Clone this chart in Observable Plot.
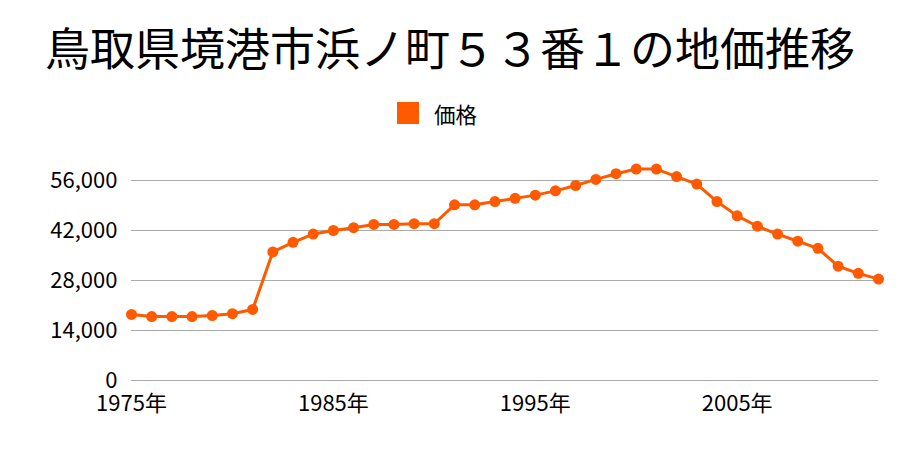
<!DOCTYPE html>
<html>
<head>
<meta charset="utf-8">
<script src="https://cdn.jsdelivr.net/npm/d3@7"></script>
<script src="https://cdn.jsdelivr.net/npm/@observablehq/plot@0.6"></script>
<style>
  body { margin: 0; background: #fff; }
  #wrap { position: relative; width: 900px; height: 450px; font-family: "Noto Sans CJK JP", sans-serif; }
  #title { position: absolute; left: 0; top: 24px; width: 900px; text-align: center; font-size: 45px; line-height: 45px; color: #000; white-space: nowrap; }
  #legend { position: absolute; left: 397px; top: 102px; height: 22px; display: flex; align-items: center; font-size: 21.5px; color: #000; }
  #legend .sw { width: 22px; height: 22px; background: #ff5a00; margin-right: 15px; }
  #chart { position: absolute; left: 0; top: 0; }
</style>
</head>
<body>
<div id="wrap">
  <div id="chart"></div>
  <div id="title">鳥取県境港市浜ノ町５３番１の地価推移</div>
  <div id="legend"><span class="sw"></span><span>価格</span></div>
</div>
<script>
const years = [1975,1976,1977,1978,1979,1980,1981,1982,1983,1984,1985,1986,1987,1988,1989,1990,1991,1992,1993,1994,1995,1996,1997,1998,1999,2000,2001,2002,2003,2004,2005,2006,2007,2008,2009,2010,2011,2012];
const prices = [18500,17900,17900,17900,18200,18700,19900,36000,38700,41000,42000,42800,43700,43700,43900,43900,49200,49200,50100,51000,51900,53100,54600,56300,57900,59200,59200,57100,55000,50100,46100,43200,41000,39000,37000,32000,30000,28400];
const yTicks = [0,14000,28000,42000,56000];
const xTicks = [1975,1985,1995,2005];
const seriesName = "価格";
const color = "#ff5a00";

const data = years.map((y, i) => ({year: y, price: prices[i], series: seriesName}));

const chart = Plot.plot({
  width: 900,
  height: 450,
  marginLeft: 131,
  marginRight: 22,
  marginTop: 130,
  marginBottom: 70,
  style: { fontFamily: "'Noto Sans CJK JP', sans-serif", fontSize: "22px", color: "#000", background: "transparent" },
  x: { domain: [1975, 2012], ticks: xTicks, tickFormat: d => d + "年", tickSize: 0, tickPadding: 15, label: null },
  y: { domain: [0, 70000], ticks: yTicks, tickFormat: d3.format(","), tickSize: 0, tickPadding: 14, label: null },
  marks: [
    Plot.gridY(yTicks, { stroke: "#aaaaaa", strokeOpacity: 1, strokeWidth: 1 }),
    Plot.axisY({ ticks: yTicks, tickFormat: d3.format(","), tickSize: 0, tickPadding: 14, label: null, fill: "#000" }),
    Plot.axisX({ ticks: xTicks, tickFormat: d => d + "年", tickSize: 0, tickPadding: 15, label: null, fill: "#000" }),
    Plot.line(data, { x: "year", y: "price", stroke: color, strokeWidth: 3 }),
    Plot.dot(data, { x: "year", y: "price", fill: color, r: 5.5 })
  ]
});
document.getElementById("chart").appendChild(chart);
</script>
</body>
</html>
